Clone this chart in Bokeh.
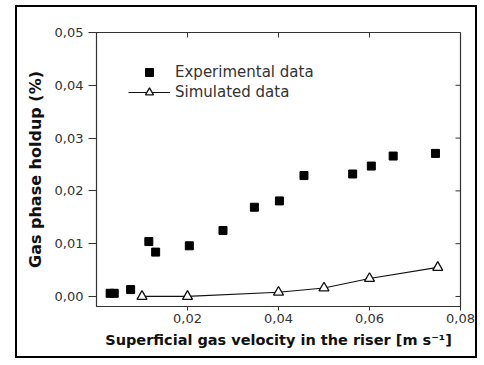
import math
from bokeh.plotting import figure
from bokeh.models import Range1d, FixedTicker, Legend, LegendItem
from bokeh.embed import file_html
from bokeh.resources import INLINE

# ---- data ----
exp_x = [0.0030, 0.0039, 0.0075, 0.0115, 0.0130, 0.0204, 0.0278, 0.0347,
         0.0402, 0.0456, 0.0563, 0.0604, 0.0652, 0.0745]
exp_y = [0.0006, 0.0006, 0.0013, 0.0104, 0.0084, 0.0096, 0.0125, 0.0169,
         0.0181, 0.0229, 0.0232, 0.0247, 0.0266, 0.0271]
sim_x = [0.01, 0.02, 0.04, 0.05, 0.06, 0.075]
sim_y = [0.0, 0.0, 0.0008, 0.0016, 0.0034, 0.0055]

x_ticks = [0.02, 0.04, 0.06, 0.08]
x_tick_labels = ["0,02", "0,04", "0,06", "0,08"]
y_ticks = [0.0, 0.01, 0.02, 0.03, 0.04, 0.05]
y_tick_labels = ["0,00", "0,01", "0,02", "0,03", "0,04", "0,05"]

x_title = "Superficial gas velocity in the riser [m s\u207b\u00b9]"
y_title = "Gas phase holdup (%)"
series_names = ["Experimental data", "Simulated data"]

X_MIN, X_MAX = 0.0, 0.08
Y_MIN, Y_MAX = -0.0019, 0.05

FONT = "DejaVu Sans"
AX = "#333333"

p = figure(width=462, height=353, output_backend="svg", toolbar_location=None,
           x_range=Range1d(X_MIN, X_MAX), y_range=Range1d(Y_MIN, Y_MAX),
           min_border_left=79, min_border_right=19, min_border_top=25,
           min_border_bottom=54)
p.styles = {"margin-left": "15px", "margin-top": "5px",
            "border": "2px solid black"}
p.xgrid.visible = False
p.ygrid.visible = False
p.outline_line_color = AX
p.outline_line_width = 1.2
p.background_fill_color = "white"
p.border_fill_color = "white"

xa = p.xaxis[0]
xa.ticker = FixedTicker(ticks=x_ticks)
xa.major_label_overrides = dict(zip(x_ticks, x_tick_labels))
xa.axis_label = x_title
ya = p.yaxis[0]
ya.ticker = FixedTicker(ticks=y_ticks)
ya.major_label_overrides = dict(zip(y_ticks, y_tick_labels))
ya.axis_label = y_title

for ax in (xa, ya):
    ax.axis_line_color = AX
    ax.major_tick_line_color = AX
    ax.minor_tick_line_color = None
    ax.major_tick_in = 0
    ax.major_label_text_font = FONT
    ax.major_label_text_font_size = "13px"
    ax.major_label_text_color = "#333333"
    ax.axis_label_text_font = FONT
    ax.axis_label_text_font_style = "bold"
    ax.axis_label_text_color = "#111111"
xa.major_tick_out = 4
xa.major_label_standoff = 3
xa.axis_label_standoff = 6
xa.axis_label_text_font_size = "14.5px"
ya.major_tick_out = 8
ya.major_label_standoff = 5
ya.axis_label_standoff = 7
ya.axis_label_text_font_size = "16px"

# inner ticks on the top and right frame edges (clipped to the frame)
top_ticks = x_ticks[:-1]
right_ticks = y_ticks[:-1]
p.scatter(top_ticks, [Y_MAX] * len(top_ticks), marker="dash", angle=math.pi / 2,
          size=10, line_color=AX, line_width=1)
p.scatter([X_MAX] * len(right_ticks), right_ticks, marker="dash",
          size=10, line_color=AX, line_width=1)

sq = p.scatter(exp_x, exp_y, marker="square", size=8, fill_color="black",
               line_color="black")
ln = p.line(sim_x, sim_y, line_color="#111111", line_width=1.2)
tri = p.scatter(sim_x, sim_y, marker="triangle", size=10, fill_color="white",
                line_color="#111111", line_width=1.3)

legend = Legend(items=[LegendItem(label=series_names[0], renderers=[sq]),
                       LegendItem(label=series_names[1], renderers=[ln, tri])],
                location=(32, 204), padding=0, margin=0, spacing=0,
                glyph_width=42, glyph_height=20, label_height=20,
                label_standoff=5, border_line_alpha=0, background_fill_alpha=0,
                label_text_font=FONT, label_text_font_size="15px",
                label_text_color="#333333")
p.add_layout(legend, "center")

open("out.html", "w").write(file_html(p, INLINE))
